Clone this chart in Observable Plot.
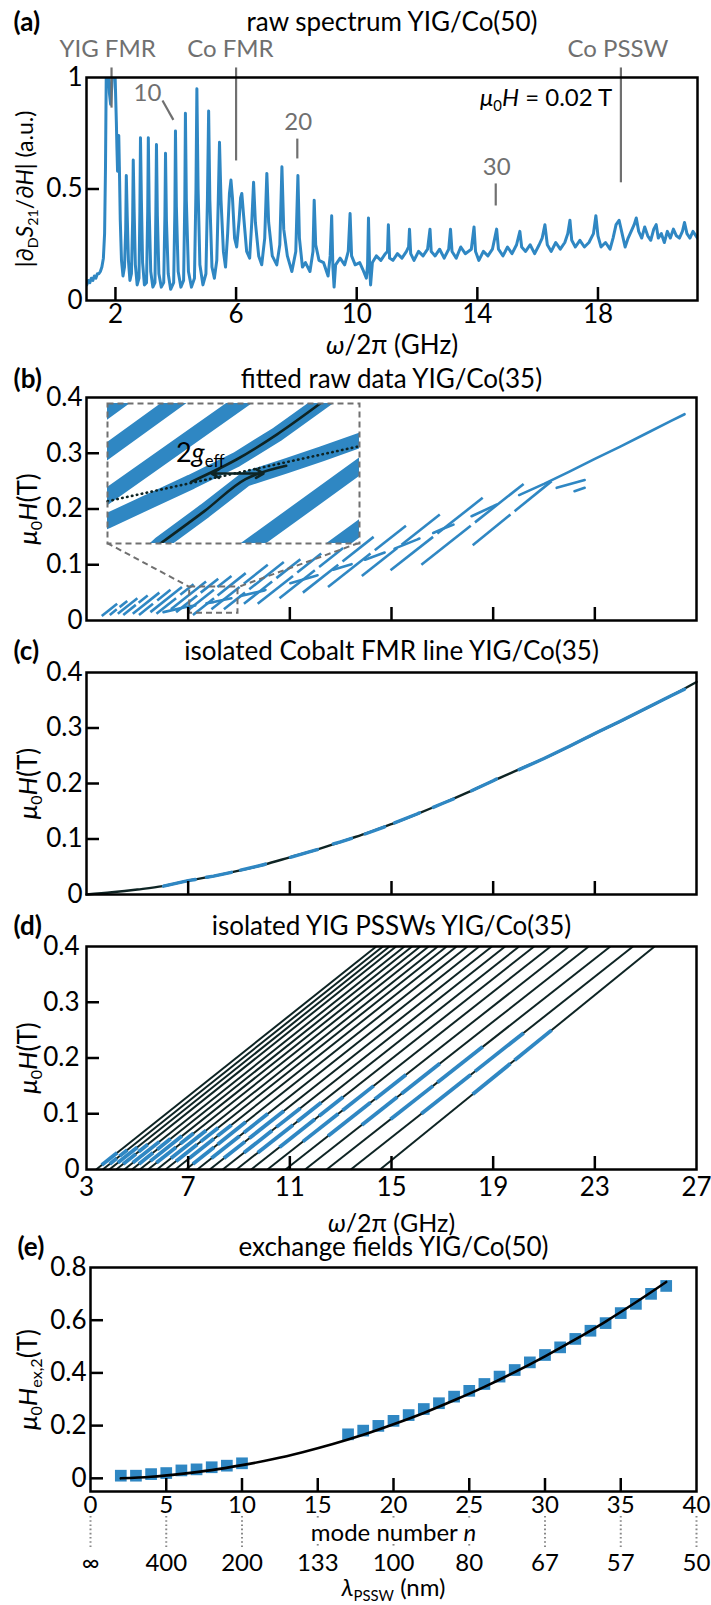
<!DOCTYPE html>
<html><head><meta charset="utf-8">
<script src="https://cdn.jsdelivr.net/npm/d3@7"></script>
<script src="https://cdn.jsdelivr.net/npm/@observablehq/plot@0.6"></script>
<style>
body{margin:0;background:#fff;}
#wrap{position:relative;width:711px;height:1605px;overflow:hidden;background:#fff;}
#wrap > div{position:absolute;left:0;}
</style></head><body><div id="wrap"></div>
<script>
// ---------- data ----------
// (a) raw spectrum  [GHz, a.u.]
const rawSpectrum = [[1.05,0.07],[1.1,0.09],[1.15,0.08],[1.2,0.1],[1.25,0.09],[1.3,0.11],[1.35,0.1],[1.4,0.12],[1.45,0.12],[1.5,0.13],[1.55,0.15],[1.6,0.19],[1.64,0.3],[1.67,0.6],[1.7,1.1],[1.75,1.08],[1.8,0.93],[1.84,0.88],[1.88,0.96],[1.92,1.1],[1.97,1.1],[2.0,0.95],[2.03,0.8],[2.05,0.68],[2.07,0.58],[2.09,0.64],[2.11,0.74],[2.13,0.6],[2.16,0.36],[2.2,0.18],[2.25,0.11],[2.3,0.15],[2.34,0.32],[2.36,0.56],[2.39,0.38],[2.43,0.18],[2.48,0.09],[2.53,0.12],[2.57,0.36],[2.59,0.63],[2.62,0.4],[2.66,0.16],[2.72,0.07],[2.78,0.1],[2.81,0.4],[2.83,0.73],[2.86,0.45],[2.9,0.17],[2.96,0.07],[3.03,0.08],[3.07,0.4],[3.09,0.73],[3.12,0.4],[3.17,0.13],[3.24,0.06],[3.31,0.08],[3.34,0.4],[3.36,0.7],[3.39,0.38],[3.44,0.12],[3.52,0.06],[3.6,0.08],[3.64,0.38],[3.66,0.66],[3.69,0.36],[3.75,0.12],[3.83,0.05],[3.93,0.08],[3.97,0.4],[3.99,0.76],[4.02,0.42],[4.08,0.13],[4.17,0.06],[4.26,0.09],[4.3,0.45],[4.32,0.84],[4.35,0.45],[4.42,0.13],[4.52,0.06],[4.62,0.1],[4.67,0.5],[4.7,0.95],[4.74,0.5],[4.8,0.16],[4.9,0.07],[5.0,0.12],[5.05,0.45],[5.09,0.85],[5.13,0.45],[5.2,0.15],[5.28,0.1],[5.36,0.18],[5.41,0.45],[5.45,0.71],[5.5,0.45],[5.58,0.22],[5.65,0.15],[5.72,0.3],[5.78,0.48],[5.83,0.54],[5.88,0.46],[5.95,0.28],[6.02,0.24],[6.1,0.36],[6.15,0.46],[6.19,0.48],[6.25,0.38],[6.35,0.22],[6.45,0.19],[6.52,0.35],[6.58,0.53],[6.64,0.35],[6.75,0.2],[6.85,0.16],[6.95,0.28],[7.02,0.57],[7.08,0.35],[7.2,0.2],[7.35,0.16],[7.45,0.25],[7.52,0.6],[7.58,0.32],[7.7,0.2],[7.85,0.13],[7.98,0.22],[8.05,0.56],[8.1,0.28],[8.2,0.15],[8.3,0.17],[8.45,0.13],[8.55,0.22],[8.59,0.45],[8.64,0.25],[8.75,0.18],[8.9,0.17],[9.05,0.11],[9.12,0.2],[9.17,0.38],[9.21,0.15],[9.25,0.06],[9.3,0.16],[9.45,0.19],[9.6,0.16],[9.72,0.22],[9.78,0.39],[9.83,0.2],[9.95,0.16],[10.1,0.17],[10.2,0.14],[10.32,0.1],[10.36,0.16],[10.39,0.37],[10.43,0.14],[10.46,0.07],[10.52,0.17],[10.65,0.2],[10.8,0.18],[10.95,0.21],[11.02,0.22],[11.05,0.34],[11.09,0.19],[11.2,0.18],[11.35,0.21],[11.5,0.19],[11.65,0.22],[11.72,0.24],[11.75,0.32],[11.79,0.21],[11.9,0.18],[12.05,0.22],[12.2,0.2],[12.35,0.23],[12.43,0.32],[12.47,0.22],[12.6,0.2],[12.75,0.23],[12.9,0.19],[13.05,0.23],[13.11,0.32],[13.16,0.22],[13.3,0.19],[13.45,0.24],[13.6,0.21],[13.8,0.23],[13.89,0.33],[13.94,0.22],[14.05,0.18],[14.2,0.22],[14.35,0.2],[14.5,0.23],[14.64,0.32],[14.7,0.23],[14.85,0.2],[15.0,0.24],[15.15,0.21],[15.3,0.25],[15.41,0.31],[15.47,0.24],[15.6,0.22],[15.75,0.25],[15.9,0.21],[16.05,0.25],[16.15,0.28],[16.24,0.34],[16.32,0.25],[16.45,0.22],[16.6,0.26],[16.75,0.23],[16.9,0.26],[17.0,0.3],[17.07,0.36],[17.13,0.27],[17.25,0.24],[17.4,0.27],[17.55,0.24],[17.7,0.26],[17.85,0.3],[17.93,0.38],[18.0,0.29],[18.1,0.24],[18.25,0.26],[18.4,0.23],[18.5,0.28],[18.6,0.34],[18.7,0.36],[18.8,0.3],[18.9,0.24],[19.0,0.28],[19.1,0.31],[19.2,0.34],[19.27,0.37],[19.35,0.31],[19.45,0.28],[19.55,0.33],[19.65,0.29],[19.75,0.27],[19.85,0.32],[19.93,0.34],[20.0,0.28],[20.1,0.3],[20.2,0.26],[20.3,0.31],[20.4,0.28],[20.5,0.32],[20.6,0.29],[20.7,0.28],[20.8,0.31],[20.87,0.35],[20.95,0.3],[21.05,0.28],[21.15,0.31],[21.3,0.28]];
const aXTicks = [2, 6, 10, 14, 18];
const aYTicks = [0, 0.5, 1];
const aAnnotLines = [[1.87,1.045,1.87,0.865],[6.0,1.045,6.0,0.628],[3.56,0.897,3.92,0.81],[8.03,0.726,8.03,0.637],[14.61,0.525,14.61,0.426],[18.76,1.045,18.76,0.53]];
const aAnnotText = [{x:1.74,y:1.125,t:"YIG FMR"},{x:5.81,y:1.125,t:"Co FMR"},{x:3.06,y:0.93,t:"10"},{x:8.06,y:0.80,t:"20"},{x:14.64,y:0.598,t:"30"},{x:18.66,y:1.125,t:"Co PSSW"}];
const aFieldLabel = [{x:14.09, y:0.906, t:"@muH002"}];

// (b)-(d) shared frequency axis
const fTicks = [7, 11, 15, 19, 23];
const fLabels = [3, 7, 11, 15, 19, 23, 27];
const hTicks = [0.1, 0.2, 0.3];
const hLabels = [0, 0.1, 0.2, 0.3, 0.4];

// YIG PSSW fit lines: frequency at mu0H = 0 and at mu0H = 0.4 T
const yigBottom = [3.38,3.64,3.90,4.17,4.49,4.79,5.10,5.42,5.77,6.11,6.49,6.91,7.36,7.85,8.36,8.90,9.48,10.12,10.83,11.60,12.45,13.40,14.55];
const yigTop    = [14.40,14.66,14.92,15.18,15.51,15.81,16.13,16.46,16.82,17.17,17.56,17.99,18.45,18.95,19.47,20.02,20.61,21.26,21.98,22.76,23.61,24.50,25.35];
// measured YIG data: [line index, mu0H start, mu0H end]
const yigData = [[0,0.008,0.03],[1,0.01,0.02],[1,0.024,0.035],[2,0.012,0.04],[3,0.01,0.028],[3,0.032,0.045],[4,0.012,0.05],[5,0.01,0.03],[5,0.036,0.055],[6,0.015,0.06],[7,0.012,0.04],[7,0.046,0.065],[8,0.02,0.07],[9,0.015,0.045],[9,0.05,0.075],[10,0.02,0.055],[10,0.06,0.08],[11,0.01,0.04],[11,0.045,0.085],[12,0.02,0.06],[12,0.066,0.10],[13,0.02,0.05],[13,0.056,0.105],[14,0.03,0.07],[14,0.076,0.11],[15,0.03,0.08],[15,0.086,0.12],[16,0.04,0.09],[16,0.096,0.13],[17,0.05,0.10],[17,0.106,0.15],[18,0.06,0.12],[18,0.126,0.17],[19,0.08,0.13],[19,0.136,0.19],[20,0.09,0.15],[20,0.156,0.22],[21,0.10,0.17],[21,0.176,0.245],[22,0.135,0.19],[22,0.196,0.25]];

// Co FMR fit curve and measured pieces [GHz, T]
const coFit = [[3,0],[4,0.004],[5,0.009],[6,0.015],[7,0.025],[8,0.033],[9,0.043],[10,0.054],[11,0.067],[12,0.080],[13,0.095],[14,0.110],[15,0.127],[16,0.145],[17,0.164],[18,0.184],[19,0.205],[20,0.225],[21,0.245],[22,0.267],[23,0.290],[24,0.312],[25,0.335],[26,0.358],[27,0.383]];
const coData = [
  [[6.03,0.015],[7.0,0.025],[7.28,0.027]],
  [[7.72,0.031],[8.0,0.033],[8.70,0.040]],
  [[9.06,0.044],[10.0,0.054],[10.04,0.055]],
  [[11.02,0.067],[12.0,0.080],[12.09,0.081]],
  [[12.71,0.091],[13.0,0.095],[13.43,0.101]],
  [[13.96,0.109],[14.73,0.122]],
  [[15.12,0.129],[16.0,0.145],[16.10,0.147]],
  [[16.64,0.157],[17.0,0.164],[17.44,0.172]],
  [[18.15,0.187],[19.0,0.205],[19.13,0.208]],
  [[20.02,0.225],[21,0.245],[22,0.267],[23,0.290],[24,0.312],[25,0.335],[26,0.358],[26.53,0.370]]
];
const bExtra = [[[21.5,0.238],[22.6,0.252]],[[22.2,0.232],[22.6,0.238]]];
// zoom box and inset box in (b) [x1, x2, y1, y2]
const zoomBox = [7.06, 8.96, 0.013, 0.06];
const insetBox = [3.81, 13.71, 0.139, 0.39];
// inset content, in inset units (0..100 both ways)
const insetBands = [
  [[-10,82.2],[12,111]],
  [[-10,53.2],[30,105.2]],
  [[-10,21.3],[57,106.4]],
  [[-10,8],[0,16.2],[33.2,44],[51.2,60],[67.3,78],[84.4,100],[92,110]],
  [[15,-10],[21,0],[38.6,23.3],[54.8,46],[70.9,55.5],[85,64],[110,80]],
  [[50,-10],[110,68]],
  [[84,-10],[110,24]]
];
const insetUpper = [[33.2,44],[51.2,60],[67.3,78],[84.4,100]];
const insetLower = [[21,0],[38.6,23.3],[54.8,46],[70.9,55.5]];
const insetDotted = [[0,30.2],[100,69.5]];
const insetArrow = [[51.6,50,41.3,50],[51.6,50,61.9,50]];
const insetLabel = [{x:36.8, y:64.3, t:"@geff"}];

// (e) exchange fields
const modeN  = [2,3,4,5,6,7,8,9,10,17,18,19,20,21,22,23,24,25,26,27,28,29,30,31,32,33,34,35,36,37,38];
const hexVal = [0.01,0.01,0.016,0.02,0.03,0.034,0.042,0.048,0.057,0.167,0.181,0.199,0.218,0.24,0.263,0.285,0.31,0.332,0.358,0.386,0.411,0.44,0.468,0.497,0.529,0.56,0.589,0.627,0.662,0.70,0.73];
const fitN = [2,4,6,8,10,12,14,16,18,20,22,24,26,28,30,32,34,36,38];
const fitH = [0,0.006,0.017,0.031,0.05,0.072,0.099,0.13,0.165,0.205,0.248,0.296,0.347,0.403,0.463,0.527,0.595,0.668,0.745];
const eXTicks = [5,10,15,20,25,30,35];
const eXLabels = [0,5,10,15,20,25,30,35,40];
const lambdaLabels = ["∞","400","200","133","100","80","67","57","50"];
const eDotsFull = [0,5,10,30,35,40];
const eDotsSplit = [15,20,25];
const eYTicks = [0.2,0.4,0.6];
const eYLabels = [0,0.2,0.4,0.6,0.8];
const eModeLabel = [{x:20, t:"@mode"}];

// ---------- styling ----------
const FONT = 'Lato, "Open Sans", sans-serif';
const FS = 26;
const FSE = 24;
const BLUE = "#2f87c3", GRAY = "#707070", DARK = "#0e2424";
const W = 711;
const sub = (s) => `<tspan dy="5" font-size="62%">${s}</tspan>`;
const rich = {
  "@ylabA": `|∂${sub("D")}<tspan dy="-5" font-style="italic">S</tspan>${sub("21")}<tspan dy="-5">/∂</tspan><tspan font-style="italic">H</tspan><tspan>| (a.u.)</tspan>`,
  "@muH002": `<tspan font-style="italic">μ</tspan>${sub("0")}<tspan dy="-5" font-style="italic">H</tspan><tspan> = 0.02 T</tspan>`,
  "@muHT": `<tspan font-style="italic">μ</tspan>${sub("0")}<tspan dy="-5" font-style="italic">H</tspan><tspan>(T)</tspan>`,
  "@omega": `<tspan font-style="italic">ω</tspan><tspan>/2π (GHz)</tspan>`,
  "@geff": `2<tspan font-style="italic">g</tspan>${sub("eff")}`,
  "@hex": `<tspan font-style="italic">μ</tspan>${sub("0")}<tspan dy="-5" font-style="italic">H</tspan>${sub("ex,2")}<tspan dy="-5">(T)</tspan>`,
  "@mode": `mode number <tspan font-style="italic">n</tspan>`,
  "@lambda": `<tspan font-style="italic">λ</tspan>${sub("PSSW")}<tspan dy="-5"> (nm)</tspan>`
};
const wrap = document.getElementById("wrap");
function place(svg, top, left = 0) {
  d3.select(svg).selectAll("text").each(function () {
    const k = this.textContent;
    if (rich[k]) this.innerHTML = rich[k];
  });
  const d = document.createElement("div");
  d.style.top = top + "px";
  d.style.left = left + "px";
  d.appendChild(svg);
  wrap.appendChild(d);
}
const style = {background: "transparent", overflow: "visible", fontFamily: FONT, fontSize: FS + "px", color: "black"};
const fmt = (d) => String(d);
const MID = {lineAnchor: "middle"};

function standardMarks({xTicks, yTicks, xLabels, yLabels, fw, fh, xLabelDy, xLabelFs = FS, yLabelDx = -4, title, letter, titleDy, yLab, yLabDx, yLabFs = FS, xLab, xLabDy, xLabFs = FS}) {
  const m = [
    Plot.tickX(xTicks, {x: d => d, insetTop: fh - 13, strokeWidth: 2.5}),
    Plot.tickY(yTicks, {y: d => d, insetRight: fw - 13, strokeWidth: 2.5}),
    Plot.text(yLabels, {y: d => d, text: fmt, frameAnchor: "left", textAnchor: "end", ...MID, dx: yLabelDx, fontSize: FS}),
    Plot.text([title], {frameAnchor: "top", dy: titleDy, textAnchor: "middle", ...MID, fontSize: FS}),
    Plot.text([letter], {frameAnchor: "top-left", textAnchor: "start", ...MID, dx: -73, dy: titleDy, fontSize: FS, fontWeight: "bold"}),
    Plot.text([yLab], {frameAnchor: "left", dx: yLabDx, rotate: -90, textAnchor: "middle", ...MID, fontSize: yLabFs}),
    Plot.frame({stroke: "black", strokeWidth: 2.5})
  ];
  if (xLabels) m.push(Plot.text(xLabels, {x: d => d, text: fmt, frameAnchor: "bottom", ...MID, dy: xLabelDy, fontSize: xLabelFs}));
  if (xLab) m.push(Plot.text([xLab], {frameAnchor: "bottom", textAnchor: "middle", ...MID, dy: xLabDy, fontSize: xLabFs}));
  return m;
}

// ---------- (a) ----------
const pA = Plot.plot({
  width: W, height: 365, marginTop: 77, marginLeft: 86, marginRight: 14, marginBottom: 65,
  x: {domain: [1.04, 21.3], axis: null}, y: {domain: [0, 1], axis: null}, style,
  marks: [
    Plot.line(rawSpectrum, {x: d => d[0], y: d => d[1], stroke: BLUE, strokeWidth: 3, clip: true}),
    Plot.link(aAnnotLines, {x1: d => d[0], y1: d => d[1], x2: d => d[2], y2: d => d[3], stroke: GRAY, strokeWidth: 2.2}),
    Plot.text(aAnnotText, {x: "x", y: "y", text: "t", fill: GRAY, fontSize: 24}),
    Plot.text(aFieldLabel, {x: "x", y: "y", text: "t", textAnchor: "start", fontSize: 24}),
    ...standardMarks({xTicks: aXTicks.slice(), yTicks: [0.5], xLabels: aXTicks, yLabels: aYTicks, fw: 611, fh: 223, xLabelDy: 14,
      title: "raw spectrum YIG/Co(50)", letter: "(a)", titleDy: -55, yLab: "@ylabA", yLabDx: -61, yLabFs: 23, xLab: "@omega", xLabDy: 45})
  ]
});
place(pA, 0);

// helper: position on a YIG fit line
const lineX = (i, h) => yigBottom[i] + (yigTop[i] - yigBottom[i]) * h / 0.4;
const yigSegs = yigData.map(([i, h1, h2]) => ({x1: lineX(i, h1), y1: h1, x2: lineX(i, h2), y2: h2}));
const coPts = coData.concat(bExtra).flatMap((seg, k) => seg.map(p => ({x: p[0], y: p[1], k})));
const coPtsC = coData.flatMap((seg, k) => seg.map(p => ({x: p[0], y: p[1], k})));

// ---------- (b) ----------
const TOPB = 360;
const pB = Plot.plot({
  width: W, height: 280, marginTop: 37, marginLeft: 86, marginRight: 15, marginBottom: 20,
  x: {domain: [3, 27], axis: null}, y: {domain: [0, 0.4], axis: null}, style,
  marks: [
    Plot.link(yigSegs, {x1: "x1", y1: "y1", x2: "x2", y2: "y2", stroke: BLUE, strokeWidth: 2.6}),
    Plot.line(coPts, {x: "x", y: "y", z: "k", stroke: BLUE, strokeWidth: 2.6}),
    Plot.rect([zoomBox], {x1: d => d[0], x2: d => d[1], y1: d => d[2], y2: d => d[3], fill: "none", stroke: GRAY, strokeWidth: 2, strokeDasharray: "6,4"}),
    Plot.link([[insetBox[0], insetBox[2], zoomBox[0], zoomBox[3]], [insetBox[1], insetBox[2], zoomBox[1], zoomBox[3]]],
      {x1: d => d[0], y1: d => d[1], x2: d => d[2], y2: d => d[3], stroke: GRAY, strokeWidth: 2, strokeDasharray: "6,4"}),
    ...standardMarks({xTicks: fTicks, yTicks: hTicks, xLabels: null, yLabels: hLabels, fw: 610, fh: 223,
      title: "fitted raw data YIG/Co(35)", letter: "(b)", titleDy: -18, yLab: "@muHT", yLabDx: -58})
  ]
});
place(pB, TOPB);

// inset
{
  const sx = pB.scale("x"), sy = pB.scale("y");
  const L = sx.apply(insetBox[0]), R = sx.apply(insetBox[1]);
  const T = sy.apply(insetBox[3]), B = sy.apply(insetBox[2]);
  const bandPts = insetBands.flatMap((b, k) => b.map(p => ({x: p[0], y: p[1], k})));
  const pI = Plot.plot({
    width: Math.round(R - L), height: Math.round(B - T), margin: 0,
    x: {domain: [0, 100], axis: null}, y: {domain: [0, 100], axis: null},
    style: {...style, background: "white"},
    marks: [
      Plot.line(bandPts, {x: "x", y: "y", z: "k", stroke: BLUE, strokeWidth: 15, clip: true}),
      Plot.line(insetDotted, {x: d => d[0], y: d => d[1], stroke: DARK, strokeWidth: 2.6, strokeDasharray: "0.5,4.5", strokeLinecap: "round"}),
      Plot.line(insetUpper, {x: d => d[0], y: d => d[1], curve: "catmull-rom", stroke: DARK, strokeWidth: 2.6, clip: true}),
      Plot.line(insetLower, {x: d => d[0], y: d => d[1], curve: "catmull-rom", stroke: DARK, strokeWidth: 2.6, clip: true}),
      Plot.arrow(insetArrow, {x1: d => d[0], y1: d => d[1], x2: d => d[2], y2: d => d[3], stroke: DARK, strokeWidth: 2.6, headLength: 11}),
      Plot.text(insetLabel, {x: "x", y: "y", text: "t", fontSize: 27}),
      Plot.frame({stroke: GRAY, strokeWidth: 2, strokeDasharray: "6,4"})
    ]
  });
  place(pI, TOPB + Math.round(T), Math.round(L));
}

// ---------- (c) ----------
const pC = Plot.plot({
  width: W, height: 275, marginTop: 37, marginLeft: 86, marginRight: 15, marginBottom: 16,
  x: {domain: [3, 27], axis: null}, y: {domain: [0, 0.4], axis: null}, style,
  marks: [
    Plot.line(coFit, {x: d => d[0], y: d => d[1], curve: "catmull-rom", stroke: DARK, strokeWidth: 2.4}),
    Plot.line(coPtsC, {x: "x", y: "y", z: "k", stroke: BLUE, strokeWidth: 3.4}),
    ...standardMarks({xTicks: fTicks, yTicks: hTicks, xLabels: null, yLabels: hLabels, fw: 610, fh: 222,
      title: "isolated Cobalt FMR line YIG/Co(35)", letter: "(c)", titleDy: -21, yLab: "@muHT", yLabDx: -58})
  ]
});
place(pC, 635);

// ---------- (d) ----------
const yigLines = yigBottom.map((b, i) => ({x1: b, y1: 0, x2: yigTop[i], y2: 0.4}));
const pD = Plot.plot({
  width: W, height: 330, marginTop: 41, marginLeft: 86, marginRight: 15, marginBottom: 66,
  x: {domain: [3, 27], axis: null}, y: {domain: [0, 0.4], axis: null}, style,
  marks: [
    Plot.link(yigLines, {x1: "x1", y1: "y1", x2: "x2", y2: "y2", stroke: DARK, strokeWidth: 2}),
    Plot.link(yigSegs, {x1: "x1", y1: "y1", x2: "x2", y2: "y2", stroke: BLUE, strokeWidth: 3.8}),
    ...standardMarks({xTicks: fTicks, yTicks: hTicks, xLabels: fLabels, yLabels: hLabels, fw: 610, fh: 223, xLabelDy: 18, yLabelDx: -7,
      title: "isolated YIG PSSWs YIG/Co(35)", letter: "(d)", titleDy: -20, yLab: "@muHT", yLabDx: -58, xLab: "@omega", xLabDy: 54, xLabFs: 25})
  ]
});
place(pD, 905);

// ---------- (e) ----------
const squares = modeN.map((n, i) => ({n, h: hexVal[i]}));
const fit = fitN.map((n, i) => ({n, h: fitH[i]}));
const dotStyle = {stroke: "#888", strokeWidth: 2, strokeDasharray: "1.6,2.6"};
const pE = Plot.plot({
  width: W, height: 380, marginTop: 42, marginLeft: 90, marginRight: 15, marginBottom: 114,
  x: {domain: [0, 40], axis: null}, y: {domain: [-0.05, 0.8], axis: null}, style,
  marks: [
    Plot.dot(squares, {x: "n", y: "h", symbol: "square", r: 6.6, fill: BLUE}),
    Plot.line(fit, {x: "n", y: "h", curve: "catmull-rom", stroke: "black", strokeWidth: 2.6}),
    Plot.tickY([0], {y: d => d, insetRight: 606 - 13, strokeWidth: 2.5}),
    Plot.ruleX(eDotsFull, {x: d => d, insetTop: 224 - 32, dy: 57, ...dotStyle}),
    Plot.ruleX(eDotsSplit, {x: d => d, insetTop: 224 - 4, dy: 29, ...dotStyle}),
    Plot.ruleX(eDotsSplit, {x: d => d, insetTop: 224 - 4, dy: 57, ...dotStyle}),
    Plot.text(eModeLabel, {x: "x", text: "t", frameAnchor: "bottom", ...MID, dy: 42, fontSize: FSE}),
    Plot.text(lambdaLabels, {x: (d, i) => eXLabels[i], text: d => d, frameAnchor: "bottom", ...MID, dy: 72, fontSize: FSE}),
    Plot.text(["@lambda"], {x: eModeLabel.map(d => d.x), frameAnchor: "bottom", ...MID, dy: 97, fontSize: FSE}),
    ...standardMarks({xTicks: eXTicks, yTicks: eYTicks, xLabels: eXLabels, yLabels: eYLabels, fw: 606, fh: 224, xLabelDy: 14, xLabelFs: FSE,
      title: "exchange fields YIG/Co(50)", letter: "(e)", titleDy: -20, yLab: "@hex", yLabDx: -62})
  ]
});
place(pE, 1225);
</script></body></html>
